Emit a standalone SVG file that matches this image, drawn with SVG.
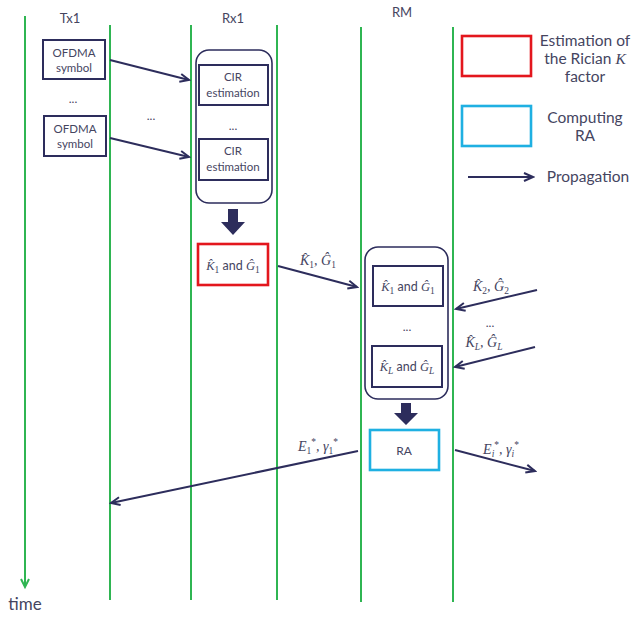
<svg xmlns="http://www.w3.org/2000/svg" width="637" height="621" viewBox="0 0 637 621">
<style>
.life{stroke:#2fb552;stroke-width:2;fill:none}
.box{fill:#fff;stroke:#2d2d5c;stroke-width:2}
.cont{fill:#fff;stroke:#2d2d5c;stroke-width:1.6}
.conn{stroke:#2d2d5c;stroke-width:2;fill:none}
.t{font-family:"Century Gothic","URW Gothic","Lato","Liberation Sans",sans-serif;fill:#45455f;text-anchor:middle}
.m{font-family:"Liberation Serif","DejaVu Serif",serif;font-style:italic;fill:#45455f}
.s{font-size:9.5px}
.u{font-style:normal}
</style>
<defs>
<marker id="ah" markerWidth="12" markerHeight="12" refX="10" refY="5" orient="auto" markerUnits="userSpaceOnUse">
<path d="M1,1 L10,5 L1,9" fill="none" stroke="#2d2d5c" stroke-width="2"/>
</marker>
<marker id="gh" markerWidth="12" markerHeight="12" refX="9" refY="5" orient="auto" markerUnits="userSpaceOnUse">
<path d="M1,1 L9,5 L1,9" fill="none" stroke="#2fb552" stroke-width="2"/>
</marker>
</defs>

<g id="lifelines">
<line class="life" x1="25" y1="16" x2="25" y2="587" marker-end="url(#gh)"/>
<line class="life" x1="110" y1="25" x2="110" y2="600"/>
<line class="life" x1="191" y1="25" x2="191" y2="600"/>
<line class="life" x1="277" y1="25" x2="277" y2="600"/>
<line class="life" x1="361" y1="27" x2="361" y2="602"/>
<line class="life" x1="453" y1="27" x2="453" y2="602"/>
</g>

<g id="headers">
<text class="t" x="70" y="23" font-size="13">Tx1</text>
<text class="t" x="233" y="23" font-size="13">Rx1</text>
<text class="t" x="402" y="17" font-size="13">RM</text>
<text class="t" x="25" y="610" font-size="17">time</text>
</g>

<g id="tx-symbol-1">
<rect class="box" x="43" y="40" width="62" height="39"/>
<text class="t" x="74" y="57" font-size="11.5">OFDMA</text>
<text class="t" x="74" y="72" font-size="11.5">symbol</text>
</g>
<text class="t" x="73" y="103" font-size="12">...</text>
<g id="tx-symbol-2">
<rect class="box" x="44" y="116" width="62" height="40"/>
<text class="t" x="75" y="133" font-size="11.5">OFDMA</text>
<text class="t" x="75" y="148" font-size="11.5">symbol</text>
</g>
<text class="t" x="151" y="120" font-size="12">...</text>

<g id="rx-container">
<rect class="cont" x="196" y="50" width="76" height="153" rx="13"/>
</g>
<g id="cir-1">
<rect class="box" x="199" y="65" width="69" height="40"/>
<text class="t" x="233" y="81" font-size="11.5">CIR</text>
<text class="t" x="233" y="97" font-size="11.5">estimation</text>
</g>
<text class="t" x="233" y="130" font-size="12">...</text>
<g id="cir-2">
<rect class="box" x="199" y="139" width="69" height="41"/>
<text class="t" x="233" y="155" font-size="11.5">CIR</text>
<text class="t" x="233" y="171" font-size="11.5">estimation</text>
</g>

<g id="rx-estimate">
<rect x="198" y="244" width="70" height="41" fill="#fff" stroke="#e3161d" stroke-width="2.6"/>
<text x="233" y="270" font-size="12.5" text-anchor="middle"><tspan class="m">K̂</tspan><tspan class="m s u" dy="3">1</tspan><tspan class="t" dy="-3"> and </tspan><tspan class="m">Ĝ</tspan><tspan class="m s u" dy="3">1</tspan></text>
</g>

<g id="rm-container">
<rect class="cont" x="365" y="247" width="83" height="152" rx="13"/>
</g>
<g id="rm-est-1">
<rect class="box" x="373" y="266" width="70" height="40"/>
<text x="408" y="291" font-size="12.5" text-anchor="middle"><tspan class="m">K̂</tspan><tspan class="m s u" dy="3">1</tspan><tspan class="t" dy="-3"> and </tspan><tspan class="m">Ĝ</tspan><tspan class="m s u" dy="3">1</tspan></text>
</g>
<text class="t" x="407" y="331" font-size="12">...</text>
<g id="rm-est-L">
<rect class="box" x="372" y="346" width="70" height="41"/>
<text x="407" y="371" font-size="12.5" text-anchor="middle"><tspan class="m">K̂</tspan><tspan class="m s" dy="3">L</tspan><tspan class="t" dy="-3"> and </tspan><tspan class="m">Ĝ</tspan><tspan class="m s" dy="3">L</tspan></text>
</g>

<g id="ra">
<rect x="370" y="430" width="69" height="40" fill="#fff" stroke="#1fb0e2" stroke-width="2.6"/>
<text class="t" x="404" y="455" font-size="12">RA</text>
</g>

<g id="legend">
<rect x="462" y="36" width="69" height="40" fill="#fff" stroke="#e3161d" stroke-width="2.6"/>
<text class="t" x="585" y="46" font-size="15.5">Estimation of</text>
<text class="t" x="585" y="64" font-size="15.5">the Rician <tspan class="m">K</tspan></text>
<text class="t" x="585" y="82" font-size="15.5">factor</text>
<rect x="462" y="106" width="69" height="40" fill="#fff" stroke="#1fb0e2" stroke-width="2.6"/>
<text class="t" x="585" y="123" font-size="15.5">Computing</text>
<text class="t" x="585" y="141" font-size="15.5">RA</text>
<line class="conn" x1="468" y1="177" x2="533" y2="177" marker-end="url(#ah)"/>
<text class="t" x="588" y="182" font-size="15.5">Propagation</text>
</g>

<g id="connectors">
<line class="conn" x1="110" y1="60" x2="189" y2="80" marker-end="url(#ah)"/>
<line class="conn" x1="110" y1="138" x2="189" y2="157" marker-end="url(#ah)"/>
<path d="M228,209 h10 v13 h7 l-12,13 l-12,-13 h7 z" fill="#2d2d5c"/>
<line class="conn" x1="278" y1="266" x2="357" y2="287" marker-end="url(#ah)"/>
<line class="conn" x1="537" y1="290" x2="456" y2="309" marker-end="url(#ah)"/>
<line class="conn" x1="535" y1="347" x2="455" y2="367" marker-end="url(#ah)"/>
<path d="M401,403 h10 v10 h7 l-12,12 l-12,-12 h7 z" fill="#2d2d5c"/>
<line class="conn" x1="358" y1="451" x2="111" y2="503" marker-end="url(#ah)"/>
<line class="conn" x1="455" y1="450" x2="535" y2="471" marker-end="url(#ah)"/>
</g>

<g id="labels">
<text x="318" y="265" font-size="14" text-anchor="middle"><tspan class="m">K̂</tspan><tspan class="m s u" dy="3">1</tspan><tspan class="m" dy="-3">, Ĝ</tspan><tspan class="m s u" dy="3">1</tspan></text>
<text x="491" y="291" font-size="14" text-anchor="middle"><tspan class="m">K̂</tspan><tspan class="m s u" dy="3">2</tspan><tspan class="m" dy="-3">, Ĝ</tspan><tspan class="m s u" dy="3">2</tspan></text>
<text class="t" x="490" y="327" font-size="12">...</text>
<text x="484" y="347" font-size="14" text-anchor="middle"><tspan class="m">K̂</tspan><tspan class="m s" dy="3">L</tspan><tspan class="m" dy="-3">, Ĝ</tspan><tspan class="m s" dy="3">L</tspan></text>
<text x="318" y="451" font-size="14" text-anchor="middle"><tspan class="m">E</tspan><tspan class="m s u" dy="3">1</tspan><tspan class="m s u" dy="-9">*</tspan><tspan class="m" dy="6">, γ</tspan><tspan class="m s u" dy="3">1</tspan><tspan class="m s u" dy="-9">*</tspan></text>
<text x="501" y="454" font-size="14" text-anchor="middle"><tspan class="m">E</tspan><tspan class="m s" dy="3">i</tspan><tspan class="m s u" dy="-9">*</tspan><tspan class="m" dy="6">, γ</tspan><tspan class="m s" dy="3">i</tspan><tspan class="m s u" dy="-9">*</tspan></text>
</g>
</svg>
